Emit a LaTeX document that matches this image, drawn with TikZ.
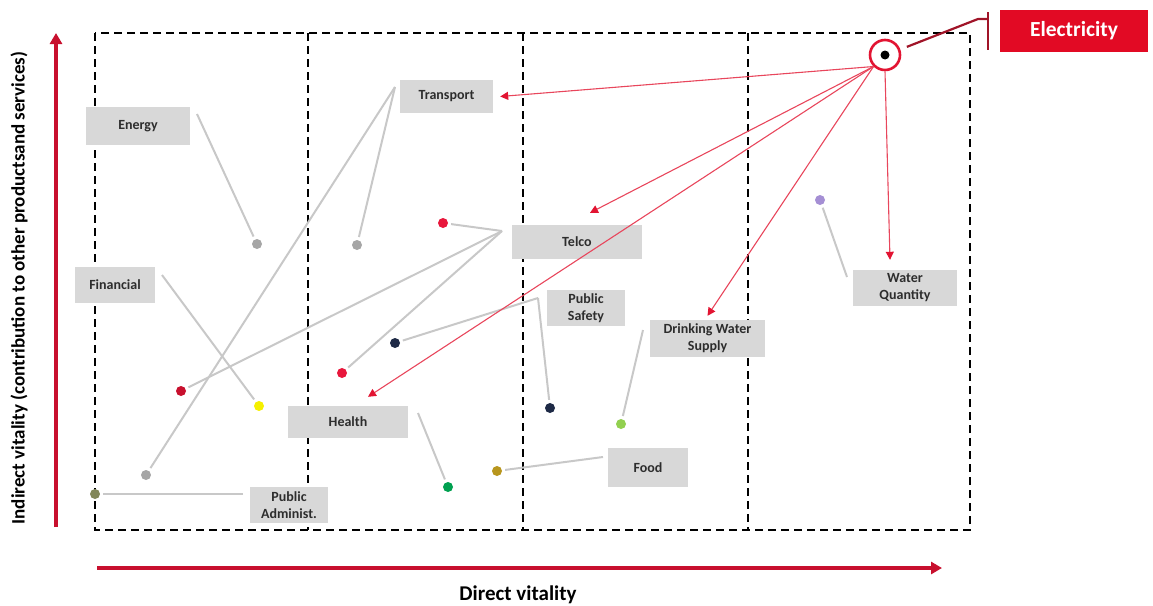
\documentclass[tikz,border=0pt]{standalone}
\usepackage{fontspec}
\setmainfont{Carlito}
\usetikzlibrary{arrows.meta}

\definecolor{axisred}{RGB}{200,16,46}
\definecolor{arrred}{RGB}{232,70,92}
\definecolor{tipred}{RGB}{226,20,50}
\definecolor{calloutred}{RGB}{226,10,36}
\definecolor{darkcall}{RGB}{160,20,40}
\definecolor{boxgray}{RGB}{216,216,216}
\definecolor{leadgray}{RGB}{200,200,200}
\definecolor{labtext}{RGB}{45,45,45}
% point colours
\definecolor{ptgray}{RGB}{166,166,166}
\definecolor{ptred}{RGB}{232,23,60}
\definecolor{ptdarkred}{RGB}{200,16,46}
\definecolor{ptyellow}{RGB}{245,240,0}
\definecolor{ptolive}{RGB}{130,135,90}
\definecolor{ptnavy}{RGB}{30,42,70}
\definecolor{ptgreen}{RGB}{0,160,80}
\definecolor{ptgold}{RGB}{184,150,30}
\definecolor{ptlime}{RGB}{146,208,80}
\definecolor{ptpurple}{RGB}{165,143,212}

\tikzset{
  frame/.style={black, line width=2.3pt, dash pattern=on 8pt off 5pt},
  sector/.style={fill=boxgray, draw=none, text=labtext, align=center,
    font=\fontsize{14}{17}\selectfont\bfseries, inner sep=0pt},
  dotnode/.style={circle, minimum size=10pt, inner sep=0pt, draw=none, fill=#1},
  leader/.style={leadgray, line width=2pt, shorten >=3pt},
  vital/.style={arrred, line width=1.1pt,
    -{Triangle[length=8pt,width=8pt,color=tipred]}},
  axis/.style={axisred, line width=4pt,
    -{Triangle[length=11pt,width=12pt]}},
  axislabel/.style={text=black, inner sep=0pt}
}

\begin{document}
\begin{tikzpicture}[x=1pt, y=-1pt]
\useasboundingbox (0,0) rectangle (1153,605);

% dashed frame and the three column dividers
\draw[frame] (95,33) rectangle (970,530);
\foreach \cx in {308,523,748} \draw[frame] (\cx,33) -- (\cx,530);

% axes
\coordinate (yb) at (56,527);
\coordinate (yt) at (56,33);
\coordinate (xl) at (97,568);
\coordinate (xr) at (942,568);
\draw[axis] (yb) -- (yt);
\draw[axis] (xl) -- (xr);
\node[axislabel, rotate=90, font=\fontsize{19}{22}\selectfont\bfseries] (ylab) at (19,288)
  {Indirect vitality (contribution to other productsand services)};
\node[axislabel, font=\fontsize{21}{24}\selectfont\bfseries] (xlab) at (518,595) {Direct vitality};

% sector labels
\node[sector, minimum width=104pt, minimum height=38pt] (energy) at (138,126) {Energy};
\node[sector, minimum width=93pt, minimum height=33pt] (transport) at (446.5,96.5) {Transport};
\node[sector, minimum width=80pt, minimum height=36pt] (financial) at (115,285) {Financial};
\node[sector, minimum width=130pt, minimum height=34pt] (telco) at (577,242) {Telco};
\node[sector, minimum width=78pt, minimum height=36pt] (safety) at (586,308) {Public\\Safety};
\node[sector, minimum width=115pt, minimum height=37pt] (drinking) at (707.5,338.5) {Drinking Water\\Supply};
\node[sector, minimum width=104pt, minimum height=36pt] (waterq) at (905,288) {Water\\Quantity};
\node[sector, minimum width=120pt, minimum height=32pt] (health) at (348,422) {Health};
\node[sector, minimum width=80pt, minimum height=39pt] (food) at (648,467.5) {Food};
\node[sector, minimum width=78pt, minimum height=36pt] (admin) at (289,505) {Public\\Administ.};

% electricity callout
\node[fill=calloutred, text=white, minimum width=148pt, minimum height=42pt, inner sep=0pt,
  font=\fontsize{21.5}{24}\selectfont\bfseries] (elec) at (1074,31) {Electricity};
\node[circle, draw=tipred, line width=2.6pt, minimum size=30pt, inner sep=0pt, fill=white] (circ) at (885,55) {};
\node[circle, fill=black, minimum size=9pt, inner sep=0pt] (core) at (circ) {};
\coordinate (bar) at (988,19);
\draw[darkcall, line width=2.4pt] ([yshift=7]bar) -- ([yshift=-31]bar);
\draw[darkcall, line width=2.2pt, shorten <=7pt] (circ.20) -- ([xshift=-10]bar) -- (bar);

% points
\node[dotnode=ptgray] (pEnergy) at (257,244) {};
\node[dotnode=ptgray] (pTransA) at (357,245) {};
\node[dotnode=ptgray] (pTransB) at (146,475) {};
\node[dotnode=ptred] (pTelcoA) at (443,223) {};
\node[dotnode=ptdarkred] (pTelcoB) at (181,391) {};
\node[dotnode=ptred] (pTelcoC) at (342,373) {};
\node[dotnode=ptyellow] (pFin) at (259,406) {};
\node[dotnode=ptolive] (pAdmin) at (95,494) {};
\node[dotnode=ptnavy] (pSafeA) at (395,343) {};
\node[dotnode=ptnavy] (pSafeB) at (550,408) {};
\node[dotnode=ptgreen] (pHealth) at (448,487) {};
\node[dotnode=ptgold] (pFood) at (497,471) {};
\node[dotnode=ptlime] (pDrink) at (621,424) {};
\node[dotnode=ptpurple] (pWater) at (820,200) {};

% leader lines from labels to their points
\coordinate (lEnergy) at (197,114);
\coordinate (lTrans) at (395,87);
\coordinate (lTelco) at (502,231);
\coordinate (lFin) at (162,275);
\coordinate (lSafe) at (538,298);
\coordinate (lHealth) at (418,413);
\coordinate (lFood) at (603,457);
\coordinate (lDrink) at (643,330);
\coordinate (lWater) at (847,277);
\coordinate (lAdmin) at (243,494);

\draw[leader] (lEnergy) -- (pEnergy);
\draw[leader] (lTrans) -- (pTransA);
\draw[leader] (lTrans) -- (pTransB);
\draw[leader] (lTelco) -- (pTelcoA);
\draw[leader] (lTelco) -- (pTelcoB);
\draw[leader] (lTelco) -- (pTelcoC);
\draw[leader] (lFin) -- (pFin);
\draw[leader] (lSafe) -- (pSafeA);
\draw[leader] (lSafe) -- (pSafeB);
\draw[leader] (lHealth) -- (pHealth);
\draw[leader] (lFood) -- (pFood);
\draw[leader] (lDrink) -- (pDrink);
\draw[leader] (lWater) -- (pWater);
\draw[leader] (lAdmin) -- (pAdmin);

% dependencies on electricity
\draw[vital] (circ.south west) -- ([xshift=7]transport.east);
\draw[vital] (circ.south west) -- ([xshift=13,yshift=12]telco.north);
\draw[vital] (circ.south west) -- ([xshift=20,yshift=9]health.north);
\draw[vital] (circ.south west) -- ([yshift=4]drinking.north);
\draw[vital] (circ.south) -- ([xshift=-15,yshift=10]waterq.north);
\end{tikzpicture}
\end{document}
